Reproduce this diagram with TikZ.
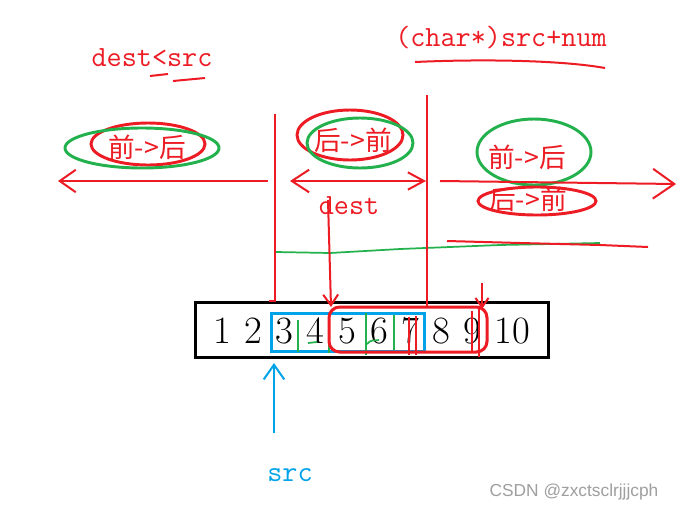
\documentclass[tikz,border=0pt]{standalone}
\usepackage{fontspec}
\newfontfamily\cjk{Noto Sans CJK SC}
\newfontfamily\markfont{Liberation Sans}
\usetikzlibrary{arrows.meta}

\definecolor{pred}{RGB}{237,28,36}
\definecolor{pgreen}{RGB}{34,177,76}
\definecolor{pblue}{RGB}{0,162,232}

\tikzset{
  redpen/.style={pred,line width=1.5pt},
  greenpen/.style={pgreen,line width=1.3pt},
  bluepen/.style={pblue,line width=1.5pt},
  ring/.style={line width=2.2pt},
  redtext/.style={text=pred,inner sep=0pt,font=\ttfamily\fontsize{22}{22}\selectfont},
  cjktext/.style={text=pred,inner sep=0pt,font=\cjk\fontsize{20}{20}\selectfont},
  digit/.style={inner sep=0pt,font=\fontsize{29}{29}\selectfont},
  barb/.style={-{Straight Barb[length=#1,width=1.4*#1]}}
}

\begin{document}
\begin{tikzpicture}[x=0.75pt,y=-0.75pt]

\fill[white] (0,0) rectangle (678,511);
\useasboundingbox (0,0) rectangle (678,511);

% labels at the top
\node[redtext] (lesssrc) at (152,58) {dest<src};
\node[redtext] (srcnum) at (501,38) {(char*)src+num};
\draw[redpen] (150,76) -- (168,74);
\draw[redpen] (173,81) -- (205,78);
\draw[redpen] (415,62) .. controls (480,59) and (560,60) .. (605,68);

% copy directions
\node[cjktext] (leftdir) at (147,147) {前->后};
\draw[pred,ring] (148,144) ellipse [x radius=57,y radius=21];
\draw[pgreen,ring] (142,148) ellipse [x radius=77,y radius=20];

\node[cjktext] (middir) at (353,140) {后->前};
\draw[pred,ring] (350,135) ellipse [x radius=53,y radius=25];
\draw[pgreen,ring] (360,143) ellipse [x radius=53,y radius=25];

\node[cjktext] (rightfwd) at (527,157) {前->后};
\draw[pgreen,ring] (534,152) ellipse [x radius=57,y radius=33];
\node[cjktext] (rightback) at (528,199) {后->前};
\draw[pred,ring] (537,201) ellipse [x radius=59,y radius=14];

\node[redtext] (dest) at (349,206) {dest};

% the three ranges
\coordinate (lefttip) at (58,181);
\coordinate (leftend) at (268,181);
\coordinate (midstart) at (290,181);
\coordinate (midend) at (426,181);
\coordinate (rightstart) at (440,181);
\coordinate (righttip) at (676,184);
\draw[redpen,barb=12pt] (leftend) -- (lefttip);
\draw[redpen,{Straight Barb[length=13pt,width=17pt]}-{Straight Barb[length=12pt,width=13pt]}] (midstart) -- (midend);
\draw[redpen,barb=16pt] (rightstart) -- (righttip);

\draw[greenpen] (276,252) -- (330,253) -- (400,249) -- (500,245) -- (600,243);
\draw[redpen] (447,241) -- (520,243) -- (600,245) -- (648,247);

% the array
\draw[line width=2.25pt] (195,302) rectangle (548,357);
\node[digit] (n1) at (222,331) {1};
\node[digit] (n2) at (253,331) {2};
\node[digit] (n3) at (284,331) {3};
\node[digit] (n4) at (315,331) {4};
\node[digit] (n5) at (347,331) {5};
\node[digit] (n6) at (379,331) {6};
\node[digit] (n7) at (410,331) {7};
\node[digit] (n8) at (441,331) {8};
\node[digit] (n9) at (472,331) {9};
\node[digit] (n10) at (512,331) {10};

\draw[pblue,line width=2.25pt] (271,313) rectangle (424,351);
\draw[greenpen] (298,320) -- (298,352);
\draw[greenpen] (329,316) -- (329,353);
\draw[greenpen] (366,313) -- (366,355);
\draw[greenpen] (394,315) -- (394,350);
\draw[greenpen] (308,343) -- (317,342);
\draw[greenpen] (367,344) .. controls (371,339) and (374,341) .. (379,340);

\draw[redpen,line width=2.25pt,rounded corners=8pt] (329,307) rectangle (487,352);
\draw[redpen] (409,317) -- (409,355);
\draw[redpen] (416,316) -- (416,355);
\draw[redpen] (472,311) -- (472,353);
\draw[redpen] (479,307) -- (479,357);

% pointers into the array
\coordinate (srctop) at (275,114);
\draw[redpen] (srctop) -- (275,301) -- (269,301);
\coordinate (desttop) at (328,200);
\draw[redpen,barb=8pt] (desttop) -- (331,307);
\coordinate (numtop) at (427,95);
\draw[redpen] (numtop) -- (427,308);
\coordinate (endtop) at (482,283);
\draw[redpen,barb=7pt] (endtop) -- (482,309);

\node[text=pblue,inner sep=0pt,font=\ttfamily\fontsize{22}{22}\selectfont] (src) at (290,475) {src};
\coordinate (srcfoot) at (274,433);
\coordinate (srctip) at (274,363);
\draw[bluepen,barb=11pt] (srcfoot) -- (srctip);

\node[text=gray!75,inner sep=0pt,font=\markfont\fontsize{13}{13}\selectfont] (mark) at (574,492) {CSDN @zxctsclrjjjcph};

\end{tikzpicture}
\end{document}
